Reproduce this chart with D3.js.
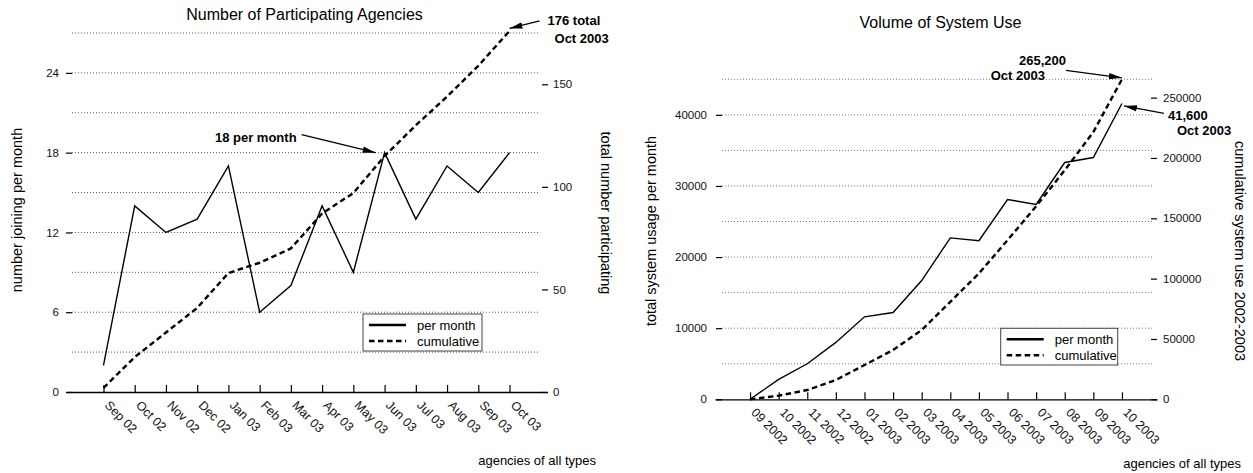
<!DOCTYPE html>
<html>
<head>
<meta charset="utf-8">
<script src="https://cdn.jsdelivr.net/npm/d3@7"></script>
<style>
  body { margin: 0; background: #fff; }
  svg { display: block; font-family: "Liberation Sans", Arial, Helvetica, sans-serif; }
</style>
</head>
<body>
<script>
// agencies panel
const agencyMonths = ["Sep 02", "Oct 02", "Nov 02", "Dec 02", "Jan 03", "Feb 03", "Mar 03",
  "Apr 03", "May 03", "Jun 03", "Jul 03", "Aug 03", "Sep 03", "Oct 03"];
const agencyPerMonth = [2, 14, 12, 13, 17, 6, 8, 14, 9, 18, 13, 17, 15, 18];
const agencyCumulative = [2, 17, 29, 41, 58, 63, 70, 87, 97, 115, 130, 144, 159, 176];
const agencyLeftTicks = [0, 6, 12, 18, 24];
const agencyRightTicks = [0, 50, 100, 150];
const agencyGrid = [3, 6, 9, 12, 15, 18, 21, 24, 27];

// system use panel
const useMonths = ["09 2002", "10 2002", "11 2002", "12 2002", "01 2003", "02 2003", "03 2003",
  "04 2003", "05 2003", "06 2003", "07 2003", "08 2003", "09 2003", "10 2003"];
const usePerMonth = [0, 2800, 5000, 8000, 11600, 12200, 16700, 22700, 22300, 28100, 27400, 33300, 34000, 41600];
const useCumulative = [0, 3000, 7700, 16000, 28400, 40800, 57400, 80800, 104300, 131900, 160000, 189800, 221500, 265200];
const useLeftTicks = [0, 10000, 20000, 30000, 40000];
const useRightTicks = [0, 50000, 100000, 150000, 200000, 250000];
const useGrid = [5000, 10000, 15000, 20000, 25000, 30000, 35000, 40000, 45000];

const legendLabels = ["per month", "cumulative"];

const svg = d3.select("body").append("svg")
  .attr("width", 1253)
  .attr("height", 473);

svg.append("defs").append("marker")
  .attr("id", "arrow")
  .attr("markerUnits", "userSpaceOnUse")
  .attr("markerWidth", 13)
  .attr("markerHeight", 8)
  .attr("refX", 13)
  .attr("refY", 4)
  .attr("orient", "auto")
  .append("path")
  .attr("d", "M0,0.8 L13,4 L0,7.2 Z")
  .attr("fill", "#000");

const drawPanel = (p) => {
  const g = svg.append("g");

  const x = d3.scalePoint().domain(p.months).range([p.x0, p.x1]).padding(p.pad);
  const yL = d3.scaleLinear().domain([0, p.leftMax]).range([p.axisY, p.topY]);
  const yR = d3.scaleLinear().domain([0, p.rightMax]).range([p.axisY, p.topY]);

  // dotted grid
  g.append("g")
    .selectAll("line")
    .data(p.grid)
    .enter()
    .append("line")
    .attr("x1", p.gridX0)
    .attr("x2", p.gridX1)
    .attr("y1", d => yL(d))
    .attr("y2", d => yL(d))
    .attr("stroke", p.gridColor)
    .attr("stroke-width", 1)
    .attr("stroke-dasharray", "1,2");

  // x axis, ticks pointing inward
  const xAxis = g.append("g")
    .attr("transform", `translate(0,${p.axisY})`)
    .call(d3.axisBottom(x).tickSizeInner(-7).tickSizeOuter(0))
  xAxis.attr("font-family", null).attr("font-size", 12.5)
  xAxis.select(".domain").attr("stroke", "#000").attr("stroke-width", 1.3)
  xAxis.selectAll(".tick line").attr("stroke", "#000").attr("stroke-width", 1.2)
  xAxis.selectAll(".tick text")
    .attr("y", null)
    .attr("dy", null)
    .attr("fill", "#111")
    .attr("text-anchor", "start")
    .attr("transform", "translate(0,14) rotate(45)");

  // left value axis
  const left = g.append("g")
    .attr("transform", `translate(${p.leftAxisX},0)`)
    .call(d3.axisLeft(yL).tickValues(p.leftTicks).tickSize(6).tickPadding(p.leftPad).tickFormat(d3.format("d")))
  left.select(".domain").remove()
  left.attr("font-family", null).attr("font-size", p.tickFont)
  left.selectAll(".tick line").attr("stroke", "#000").attr("stroke-width", 1.2)
  left.selectAll(".tick text").attr("fill", "#111")

  // right value axis
  const right = g.append("g")
    .attr("transform", `translate(${p.rightAxisX},0)`)
    .call(d3.axisRight(yR).tickValues(p.rightTicks).tickSize(6).tickPadding(p.rightPad).tickFormat(d3.format("d")))
  right.select(".domain").remove()
  right.attr("font-family", null).attr("font-size", p.tickFont)
  right.selectAll(".tick line").attr("stroke", "#000").attr("stroke-width", 1.2)
  right.selectAll(".tick text").attr("fill", "#111")

  // series
  const perLine = d3.line().x((d, i) => x(p.months[i])).y(d => yL(d));
  const cumLine = d3.line().x((d, i) => x(p.months[i])).y(d => yR(d));

  g.append("path")
    .datum(p.cumulative)
    .attr("d", cumLine)
    .attr("fill", "none")
    .attr("stroke", "#000")
    .attr("stroke-width", 2.4)
    .attr("stroke-dasharray", "5.5,3.5");

  g.append("path")
    .datum(p.perMonth)
    .attr("d", perLine)
    .attr("fill", "none")
    .attr("stroke", "#000")
    .attr("stroke-width", 1.4)
    .attr("stroke-linejoin", "miter");

  // titles
  g.append("text")
    .attr("x", p.titleX).attr("y", p.titleY)
    .attr("text-anchor", "middle")
    .attr("font-size", 16)
    .text(p.title);

  g.append("text")
    .attr("transform", `translate(${p.leftLabelX},${p.leftLabelY}) rotate(-90)`)
    .attr("text-anchor", "middle")
    .attr("font-size", 14.5)
    .text(p.leftLabel);

  g.append("text")
    .attr("transform", `translate(${p.rightLabelX},${p.rightLabelY}) rotate(90)`)
    .attr("text-anchor", "middle")
    .attr("font-size", 14.5)
    .text(p.rightLabel);

  g.append("text")
    .attr("x", p.bottomLabelX).attr("y", p.bottomLabelY)
    .attr("text-anchor", "end")
    .attr("font-size", 13)
    .text("agencies of all types");

  // legend
  const lg = g.append("g").attr("transform", `translate(${p.legend.x},${p.legend.y})`);
  lg.append("rect")
    .attr("width", p.legend.w).attr("height", p.legend.h)
    .attr("fill", "#fff").attr("stroke", "#444").attr("stroke-width", 1);
  lg.selectAll("line")
    .data(legendLabels)
    .enter()
    .append("line")
    .attr("x1", 6).attr("x2", 43)
    .attr("y1", (d, i) => 11 + i * 16).attr("y2", (d, i) => 11 + i * 16)
    .attr("stroke", "#000")
    .attr("stroke-width", 2.6)
    .attr("stroke-dasharray", (d, i) => i ? "5.5,3.5" : null);
  lg.selectAll("text")
    .data(legendLabels)
    .enter()
    .append("text")
    .attr("x", 54)
    .attr("y", (d, i) => 15.5 + i * 16)
    .attr("font-size", 13)
    .text(d => d);

  // annotations
  for (const a of p.notes) {
    const px = x(p.months[a.index]);
    const py = a.axis === "right" ? yR(a.value) : yL(a.value);
    g.append("line")
      .attr("x1", px + a.from[0]).attr("y1", py + a.from[1])
      .attr("x2", px + a.tip[0]).attr("y2", py + a.tip[1])
      .attr("stroke", "#000")
      .attr("stroke-width", 1.3)
      .attr("marker-end", "url(#arrow)");
    for (const t of a.texts) {
      g.append("text")
        .attr("x", px + t.dx).attr("y", py + t.dy)
        .attr("text-anchor", t.anchor)
        .attr("font-size", 13)
        .attr("font-weight", "bold")
        .text(t.text);
    }
  }
}

drawPanel({
  months: agencyMonths, perMonth: agencyPerMonth, cumulative: agencyCumulative,
  leftTicks: agencyLeftTicks, rightTicks: agencyRightTicks, grid: agencyGrid,
  leftMax: 27, rightMax: 175,
  x0: 66, x1: 547, pad: 1.2, axisY: 392, topY: 33,
  gridX0: 72, gridX1: 540, leftAxisX: 72, rightAxisX: 542, leftPad: 7, rightPad: 5,
  tickFont: 11.5, gridColor: "#555",
  title: "Number of Participating Agencies", titleX: 304.5, titleY: 20,
  leftLabel: "number joining per month", leftLabelX: 22, leftLabelY: 210,
  rightLabel: "total number participating", rightLabelX: 601, rightLabelY: 213,
  bottomLabelX: 596, bottomLabelY: 465,
  legend: { x: 363, y: 314, w: 119, h: 37 },
  notes: [
    { index: 9, value: 18, axis: "left", from: [-83, -18], tip: [-9, 0],
      texts: [{ text: "18 per month", dx: -88, dy: -11, anchor: "end" }] },
    { index: 13, value: 176, axis: "right", from: [30, -10], tip: [0, -2.5],
      texts: [{ text: "176 total", dx: 38, dy: -6, anchor: "start" },
              { text: "Oct 2003", dx: 45, dy: 12, anchor: "start" }] }
  ]
});

drawPanel({
  months: useMonths, perMonth: usePerMonth, cumulative: useCumulative,
  leftTicks: useLeftTicks, rightTicks: useRightTicks, grid: useGrid,
  leftMax: 45000, rightMax: 265200,
  x0: 715, x1: 1157, pad: 1.225, axisY: 399.3, topY: 79.3,
  gridX0: 722, gridX1: 1152, leftAxisX: 722, rightAxisX: 1151, leftPad: 9, rightPad: 6,
  tickFont: 11.5, gridColor: "#777",
  title: "Volume of System Use", titleX: 940.5, titleY: 28,
  leftLabel: "total system usage per month", leftLabelX: 656, leftLabelY: 231,
  rightLabel: "cumulative system use 2002-2003", rightLabelX: 1235, rightLabelY: 251,
  bottomLabelX: 1241, bottomLabelY: 468,
  legend: { x: 1000.7, y: 328.3, w: 117, h: 36.7 },
  notes: [
    { index: 13, value: 265200, axis: "right", from: [-56, -9], tip: [0, -1.5],
      texts: [{ text: "265,200", dx: -56, dy: -14, anchor: "end" },
              { text: "Oct 2003", dx: -77, dy: 1, anchor: "end" }] },
    { index: 13, value: 41600, axis: "left", from: [42, 10], tip: [2, 2.5],
      texts: [{ text: "41,600", dx: 46, dy: 17, anchor: "start" },
              { text: "Oct 2003", dx: 55, dy: 31.5, anchor: "start" }] }
  ]
});
</script>
</body>
</html>
